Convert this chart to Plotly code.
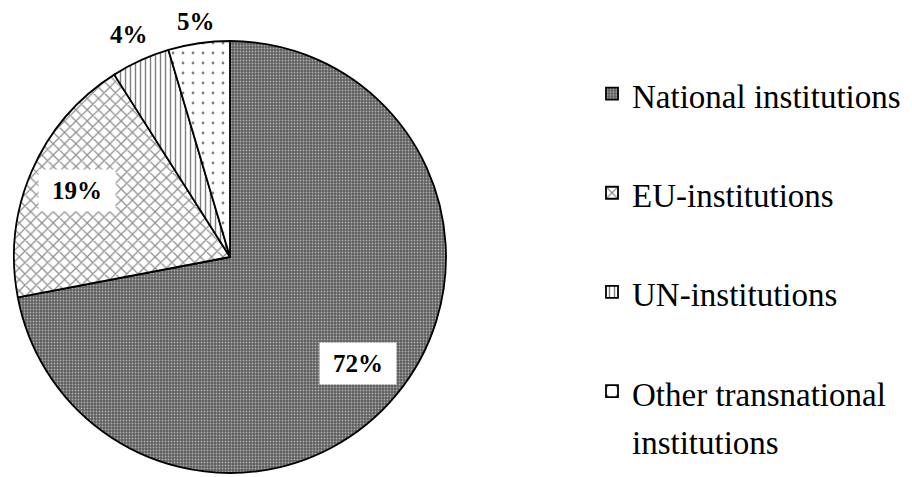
import math
import plotly.graph_objects as go

# ---- data ----
labels = ["National institutions", "EU-institutions", "UN-institutions",
          "Other transnational<br>institutions"]
values = [72, 19, 4.4, 4.6]

# ---- styles ----
W, H = 912, 477
CX, CY, R = 222, 249, 216          # pie centre / radius in pixels (paper, from top-left)
pattern_shapes = [".", "x", "|", "."]
pattern_fg = ["#ffffff", "#222222", "#000000", "#000000"]
pattern_bg = ["#5e5e5e", "#ffffff", "#ffffff", "#ffffff"]
pattern_size = [3, 8, 5, 10]
pattern_solid = [0.3, 0.3, 0.28, 0.06]
label_radius = [0.77, 0.77, 1.13, 1.10]
label_boxed = [True, True, False, False]

dom_x = [(CX - R) / W, (CX + R) / W]
dom_y = [(H - CY - R) / H, (H - CY + R) / H]

legend_labels = [
    f"<span style='font-size:33px'>{l}</span>" + ("<br> " if "<br>" not in l else "")
    for l in labels
]

fig = go.Figure(go.Pie(
    labels=legend_labels,
    values=values,
    sort=False,
    direction="clockwise",
    rotation=0,
    textinfo="none",
    hoverinfo="skip",
    domain=dict(x=dom_x, y=dom_y),
    marker=dict(
        colors=pattern_bg,
        line=dict(color="black", width=1.8),
        pattern=dict(shape=pattern_shapes, fgcolor=pattern_fg, bgcolor=pattern_bg,
                     size=pattern_size, solidity=pattern_solid, fillmode="overlay"),
    ),
))

# percentage labels placed at the mid-angle of each slice
total = sum(values)
cum = 0.0
for v, f, boxed in zip(values, label_radius, label_boxed):
    mid = (cum + v / 2) / total * 2 * math.pi
    cum += v
    px = CX + R * f * math.sin(mid)
    py = CY - R * f * math.cos(mid)
    ann = dict(
        x=px / W, y=1 - py / H, xref="paper", yref="paper",
        text=f"<b>{round(v / total * 100)}%</b>", showarrow=False,
        font=dict(family="Liberation Serif", size=25, color="black"),
        xanchor="center", yanchor="middle",
    )
    if boxed:
        ann.update(bgcolor="white", width=74, height=39)
    fig.add_annotation(**ann)

fig.update_layout(
    width=W, height=H,
    margin=dict(l=0, r=0, t=0, b=0),
    paper_bgcolor="white",
    showlegend=True,
    legend=dict(
        x=584 / W, xanchor="left", y=1 - 55 / H, yanchor="top",
        font=dict(family="Liberation Serif", size=37, color="black"),
        valign="top", bgcolor="rgba(0,0,0,0)", borderwidth=0,
    ),
)

fig.write_html("out.html")
